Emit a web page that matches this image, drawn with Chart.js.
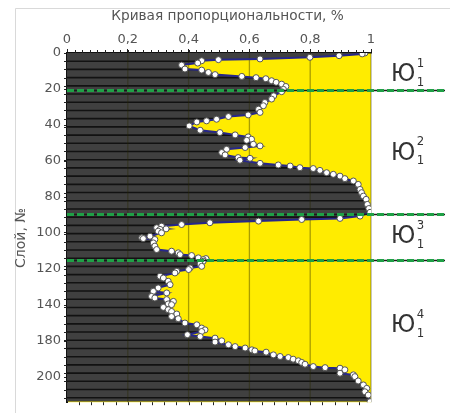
<!DOCTYPE html>
<html><head><meta charset="utf-8">
<script src="https://cdn.jsdelivr.net/npm/chart.js@4"></script>
<style>html,body{margin:0;padding:0;background:#fff}canvas{display:block}</style>
</head><body>
<canvas id="c" width="450" height="413" style="width:450px;height:413px"></canvas>
<script>
const layers = [0.0,0.5,1.5,2.4,3.3,3.7,4.3,5.6,6.7,8.9,9.5,10.8,12.0,13.0,13.7,14.3,15.4,16.3,17.3,18.6,
  20.2,21.5,23.8,25.6,27.5,29.3,31.2,33.0,34.4,35.3,36.8,37.7,38.3,40.5,42.9,44.2,45.5,46.6,47.9,48.5,
  50.7,51.6,52.5,53.5,55.3,56.6,58.1,58.5,59.6,61.3,62.2,62.8,63.7,64.2,65.2,66.5,67.4,68.4,69.8,71.1,
  73.0,75.8,77.6,79.5,81.3,84.1,86.4,88.5,90.6,91.9,92.5,93.4,94.3,95.3,96.2,97.1,97.7,98.0,99.0,99.9,
  101.8,102.7,103.1,103.6,105.5,107.3,109.2,110.1,111.0,112.0,112.5,113.8,114.2,114.8,115.7,117.2,118.5,119.4,120.3,121.3,
  122.2,124.0,125.0,126.8,128.7,130.5,132.4,133.3,135.2,136.1,137.0,138.0,139.4,139.8,141.3,142.6,143.6,145.0,146.4,147.6,
  150.0,151.0,152.8,153.8,154.7,156.5,157.5,158.4,159.9,160.6,162.1,163.1,163.9,164.9,165.5,166.2,167.7,168.6,169.2,170.1,
  171.0,171.9,172.9,174.2,174.8,175.1,176.0,177.9,178.8,179.8,182.2,184.4,186.3,188.2,190.0,193.7];
const values = [0.980,0.971,0.895,0.799,0.635,0.498,0.443,0.430,0.377,0.388,0.443,0.465,0.487,0.575,0.622,0.654,0.673,0.688,0.706,0.720,
  0.712,0.706,0.680,0.673,0.651,0.646,0.630,0.635,0.596,0.531,0.492,0.459,0.427,0.402,0.438,0.503,0.553,0.596,0.607,0.591,
  0.613,0.635,0.586,0.525,0.509,0.520,0.563,0.602,0.569,0.635,0.695,0.734,0.766,0.810,0.832,0.854,0.876,0.898,0.914,0.942,
  0.958,0.964,0.969,0.975,0.984,0.988,0.993,0.997,0.964,0.898,0.772,0.630,0.470,0.377,0.311,0.295,0.326,0.306,0.300,0.311,
  0.273,0.246,0.251,0.289,0.284,0.289,0.295,0.344,0.366,0.372,0.410,0.432,0.457,0.448,0.448,0.438,0.443,0.405,0.400,0.361,
  0.355,0.306,0.317,0.333,0.339,0.300,0.284,0.328,0.278,0.289,0.328,0.350,0.333,0.344,0.317,0.333,0.344,0.361,0.344,0.366,
  0.388,0.427,0.443,0.454,0.443,0.396,0.438,0.487,0.509,0.487,0.531,0.553,0.586,0.608,0.618,0.655,0.679,0.701,0.728,0.744,
  0.761,0.772,0.783,0.810,0.849,0.898,0.914,0.898,0.942,0.947,0.958,0.975,0.986,0.980,0.991,0.997];
const xTickLabels = ['0','0,2','0,4','0,6','0,8','1'];
const yTickLabels = ['0','20','40','60','80','100','120','140','180','200'];
const boundaryLayers = [20.6, 89.4, 114.8];
const suiteBase = 'Ю';
const suiteSup = ['1','2','3','4'];
const suiteSub = ['1','1','1','1'];
const suiteLayers = [10.3, 54.1, 100.3, 149.9];
const xTitle = 'Кривая пропорциональности, %';
const yTitle = 'Слой, №';
const bandStep = 4.56;

const FONT = '"DejaVu Sans", sans-serif';
const points = layers.map((l, i) => ({x: values[i], y: l}));

const decor = {
  id: 'decor',
  beforeDraw(chart) {
    const {ctx, chartArea: a} = chart;
    ctx.save();
    ctx.fillStyle = '#fff';
    ctx.fillRect(0, 0, chart.width, chart.height);
    ctx.strokeStyle = '#d9d9d9'; ctx.lineWidth = 1;
    ctx.beginPath(); ctx.moveTo(15.5, chart.height); ctx.lineTo(15.5, 8.5); ctx.lineTo(chart.width, 8.5); ctx.stroke();
    ctx.fillStyle = '#ffec00';
    ctx.fillRect(a.left, a.top, a.right - a.left, a.bottom - a.top);
    ctx.restore();
  },
  beforeDatasetDraw(chart, args) {
    const {ctx, chartArea: a, scales: {x, y}} = chart;
    const pts = args.meta.data;
    const x0 = x.getPixelForValue(0);
    ctx.save();
    ctx.beginPath(); ctx.rect(a.left, a.top, a.right - a.left, a.bottom - a.top); ctx.clip();
    ctx.beginPath();
    ctx.moveTo(x0, a.top);
    ctx.lineTo(pts[0].x, a.top);
    pts.forEach(p => ctx.lineTo(p.x, p.y));
    ctx.lineTo(pts[pts.length - 1].x, a.bottom);
    ctx.lineTo(x0, a.bottom);
    ctx.closePath();
    ctx.clip();
    ctx.strokeStyle = '#121212'; ctx.lineWidth = 1.6;
    for (let v = bandStep; v < y.max; v += bandStep) {
      const py = y.getPixelForValue(v);
      ctx.beginPath(); ctx.moveTo(a.left, py); ctx.lineTo(a.right, py); ctx.stroke();
    }
    ctx.restore();
    ctx.save();
    ctx.strokeStyle = 'rgba(40,40,0,0.4)'; ctx.lineWidth = 1.3;
    for (let i = 1; i < xTickLabels.length; i++) {
      const px = x.getPixelForValue(i * 0.2);
      ctx.beginPath(); ctx.moveTo(px, a.top); ctx.lineTo(px, a.bottom); ctx.stroke();
    }
    ctx.restore();
  },
  afterDatasetsDraw(chart) {
    const {ctx, chartArea: a, scales: {y}} = chart;
    ctx.save();
    boundaryLayers.forEach(l => {
      const py = Math.round(y.getPixelForValue(l)) + 0.5;
      ctx.setLineDash([]);
      ctx.strokeStyle = '#1a1a1a'; ctx.lineWidth = 1.5;
      ctx.beginPath(); ctx.moveTo(a.left, py); ctx.lineTo(445, py); ctx.stroke();
      ctx.setLineDash([7, 3]);
      ctx.strokeStyle = '#1fa046'; ctx.lineWidth = 3;
      ctx.beginPath(); ctx.moveTo(a.left, py); ctx.lineTo(445, py); ctx.stroke();
    });
    ctx.restore();
  },
  afterDraw(chart) {
    const {ctx, chartArea: a, scales: {x, y}} = chart;
    ctx.save();
    ctx.strokeStyle = '#222'; ctx.lineWidth = 1;
    for (let v = 0.025; v < 1; v += 0.025) {
      const px = Math.round(x.getPixelForValue(v)) + 0.5;
      ctx.beginPath(); ctx.moveTo(px, a.top); ctx.lineTo(px, a.top - 3); ctx.stroke();
    }
    for (let v = 0.04; v < 1; v += 0.04) {
      const px = Math.round(x.getPixelForValue(v)) + 0.5;
      ctx.beginPath(); ctx.moveTo(px, a.bottom); ctx.lineTo(px, a.bottom + 3); ctx.stroke();
    }
    for (let v = bandStep; v < y.max; v += bandStep) {
      const py = Math.round(y.getPixelForValue(v)) + 0.5;
      ctx.beginPath(); ctx.moveTo(a.left, py); ctx.lineTo(a.left - 3, py); ctx.stroke();
    }
    ctx.fillStyle = '#555';
    ctx.font = '13.7px ' + FONT;
    ctx.textAlign = 'center'; ctx.textBaseline = 'middle';
    ctx.fillText(xTitle, 227.5, 16);
    ctx.save();
    ctx.translate(21, 238);
    ctx.rotate(-Math.PI / 2);
    ctx.font = '14px ' + FONT;
    ctx.fillText(yTitle, 0, 0);
    ctx.restore();
    ctx.fillStyle = '#333';
    suiteLayers.forEach((l, i) => {
      const cy = y.getPixelForValue(l);
      ctx.textAlign = 'left'; ctx.textBaseline = 'alphabetic';
      ctx.font = '25px "Liberation Sans Narrow", "DejaVu Sans Condensed", sans-serif';
      ctx.fillText(suiteBase, 391, cy + 9.2);
      const w = ctx.measureText(suiteBase).width;
      ctx.font = '13px "Liberation Sans Narrow", "DejaVu Sans Condensed", sans-serif';
      ctx.fillText(suiteSup[i], 391 + w + 1.5, cy - 5);
      ctx.fillText(suiteSub[i], 391 + w + 1.5, cy + 14);
    });
    ctx.restore();
  }
};

new Chart(document.getElementById('c'), {
  type: 'line',
  data: {
    datasets: [{
      data: points,
      fill: 'origin',
      backgroundColor: '#404040',
      borderColor: '#27278a',
      borderWidth: 2,
      tension: 0,
      pointRadius: 3,
      pointBackgroundColor: '#ffffff',
      pointBorderColor: '#555',
      pointBorderWidth: 1
    }]
  },
  options: {
    indexAxis: 'y',
    responsive: false,
    animation: false,
    devicePixelRatio: 1,
    layout: {padding: {left: 0, right: 79, top: 0, bottom: 10}},
    plugins: {legend: {display: false}, tooltip: {enabled: false}, title: {display: false}},
    scales: {
      x: {
        type: 'linear', position: 'top', min: 0, max: 1,
        afterFit: s => { s.height = 53; },
        grid: {drawOnChartArea: false, drawTicks: true, tickLength: 4, color: '#222'},
        border: {display: true, color: '#111', width: 1.5},
        ticks: {stepSize: 0.2, padding: 2, color: '#555', font: {family: FONT, size: 13},
          maxRotation: 0, autoSkip: false,
          callback: v => xTickLabels[Math.round(v / 0.2)]}
      },
      y: {
        type: 'linear', reverse: true, min: 0, max: 194,
        afterFit: s => { s.width = 67; },
        grid: {drawOnChartArea: false, drawTicks: true, tickLength: 3, color: '#222'},
        border: {display: true, color: '#111', width: 2},
        ticks: {stepSize: 20, includeBounds: false, padding: 3, color: '#555', font: {family: FONT, size: 13},
          autoSkip: false,
          callback: v => yTickLabels[Math.round(v / 20)]}
      }
    }
  },
  plugins: [decor]
});
</script>
</body></html>
